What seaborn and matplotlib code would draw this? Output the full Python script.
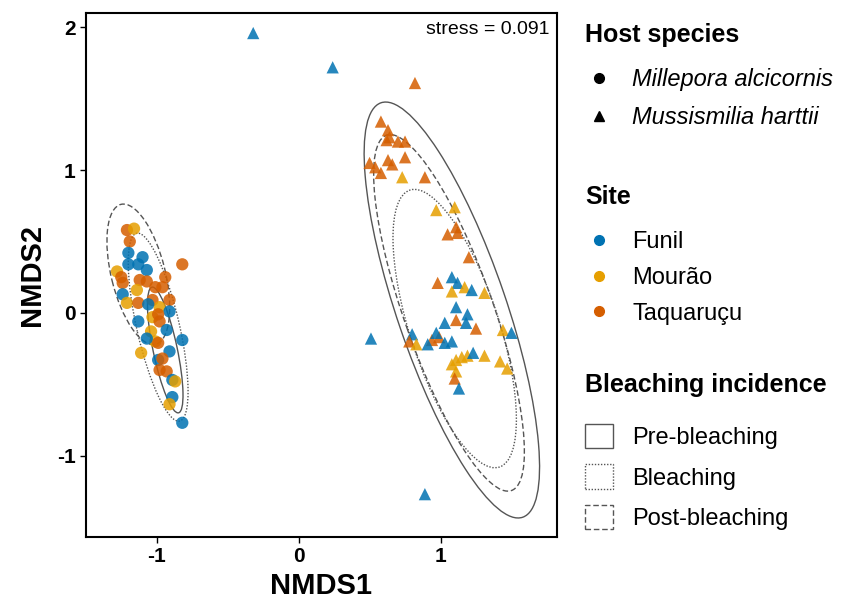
import numpy as np
import pandas as pd
import matplotlib
matplotlib.use("Agg")
import matplotlib.pyplot as plt
import matplotlib.patches as mpatches
from matplotlib.lines import Line2D
import seaborn as sns

# --- data ---
# Millepora alcicornis (circles)
mill_x = [-1.21, -1.16, -1.19, -1.20, -1.10, -1.20, -1.13, -1.07, -1.28, -1.25,
          -0.82, -1.24, -1.12, -1.07, -0.94, -1.01, -1.14, -0.96, -1.24, -1.21,
          -1.13, -1.03, -0.91, -0.98, -0.91, -1.06, -1.13, -1.03, -0.99, -0.98,
          -1.04, -0.93, -0.82, -1.01, -0.99, -1.07, -1.11, -0.91, -0.99, -0.96,
          -0.98, -0.93, -0.89, -0.87, -0.89, -0.91, -0.82]
mill_y = [0.58, 0.59, 0.50, 0.42, 0.39, 0.34, 0.34, 0.30, 0.29, 0.25,
          0.34, 0.21, 0.23, 0.22, 0.25, 0.18, 0.16, 0.18, 0.13, 0.07,
          0.07, 0.09, 0.09, 0.04, 0.01, 0.06, -0.06, -0.03, -0.01, -0.06,
          -0.13, -0.12, -0.19, -0.20, -0.21, -0.18, -0.28, -0.27, -0.33, -0.32,
          -0.40, -0.41, -0.47, -0.48, -0.59, -0.64, -0.77]
mill_site = list("TMTFFFFFMT" "TTTTTTMTFM" "TTTMFFFMTT" "MFFMTFMFFT" "TTFMFMF")

# Mussismilia harttii (triangles)
muss_x = [-0.32, 0.24, 0.82, 0.51, 0.89,
          0.58, 0.63, 0.64, 0.62, 0.70, 0.75, 0.50, 0.54, 0.63, 0.66,
          0.75, 0.58, 0.73, 0.89, 0.97, 1.10, 1.11, 1.05, 1.12, 1.20,
          0.98, 1.08, 1.12, 1.17, 1.22, 1.08, 1.31, 1.11, 1.19, 1.11,
          1.03, 1.25, 1.18, 0.80, 0.78, 0.83, 0.94, 0.99, 0.97, 0.91,
          1.03, 1.08, 1.44, 1.50, 1.11, 1.15, 1.19, 1.23, 1.31, 1.08,
          1.42, 1.47, 1.11, 1.10, 1.13]
muss_y = [1.96, 1.72, 1.61, -0.18, -1.27,
          1.34, 1.28, 1.23, 1.21, 1.20, 1.20, 1.05, 1.02, 1.07, 1.04,
          1.09, 0.98, 0.95, 0.95, 0.72, 0.74, 0.60, 0.55, 0.56, 0.39,
          0.21, 0.25, 0.21, 0.18, 0.16, 0.15, 0.14, 0.04, -0.01, -0.05,
          -0.07, -0.11, -0.07, -0.15, -0.20, -0.22, -0.19, -0.17, -0.14, -0.22,
          -0.21, -0.20, -0.12, -0.14, -0.33, -0.31, -0.30, -0.28, -0.30, -0.36,
          -0.34, -0.39, -0.41, -0.46, -0.53]
muss_site = list("FFTFF" "TTTTTTTTTT" "TTMTMMTTTT" "TFFMFMMFFT" "FTFFTMTTFF" "FFMFMMMFMM" "MMMTF")

site_names = {"F": "Funil", "M": "Mourão", "T": "Taquaruçu"}
site_colors = {"Funil": "#0072B2", "Mourão": "#E69F00", "Taquaruçu": "#D55E00"}
host_names = ["Millepora alcicornis", "Mussismilia harttii"]
stages = ["Pre-bleaching", "Bleaching", "Post-bleaching"]
stage_styles = {"Pre-bleaching": "-", "Bleaching": (0, (1, 1.2)), "Post-bleaching": (0, (4, 2))}

# 95% ellipses per host x bleaching incidence (centre, full axes, angle)
ell_host = ["Millepora alcicornis"] * 3 + ["Mussismilia harttii"] * 3
ell_stage = stages + stages
ell_cx = [-0.94, -0.99, -1.13, 1.08, 1.10, 1.06]
ell_cy = [-0.26, -0.10, 0.27, 0.02, -0.11, 0.00]
ell_w = [0.90, 1.35, 1.01, 3.07, 2.04, 2.64]
ell_h = [0.17, 0.30, 0.38, 0.77, 0.63, 0.63]
ell_ang = [-78, -77, -76, -71, -72, -70.5]

stress = 0.091

df = pd.DataFrame({
    "NMDS1": mill_x + muss_x,
    "NMDS2": mill_y + muss_y,
    "Site": [site_names[s] for s in mill_site + muss_site],
    "Host": [host_names[0]] * len(mill_x) + [host_names[1]] * len(muss_x),
})

sns.set_style("ticks")
plt.rcParams["font.family"] = ["Liberation Sans", "DejaVu Sans"]
plt.rcParams["axes.unicode_minus"] = False
plt.rcParams["text.color"] = "black"

fig = plt.figure(figsize=(8.58, 6.05), dpi=100)
ax = fig.add_axes([0.100, 0.1124, 0.549, 0.866])

for i in range(len(ell_cx)):
    ax.add_patch(mpatches.Ellipse((ell_cx[i], ell_cy[i]), ell_w[i], ell_h[i], angle=ell_ang[i],
                                  fill=False, edgecolor="#555555", linewidth=1.0,
                                  linestyle=stage_styles[ell_stage[i]]))

sns.scatterplot(data=df, x="NMDS1", y="NMDS2", hue="Site", style="Host",
                hue_order=list(site_colors), style_order=host_names,
                markers={host_names[0]: "o", host_names[1]: "^"},
                palette=site_colors, s=78, linewidth=0, alpha=0.85, legend=False, ax=ax)

ax.set_xlim(-1.5, 1.82)
ax.set_ylim(-1.57, 2.10)
ax.set_xticks([-1, 0, 1])
ax.set_yticks([-1, 0, 1, 2])
ax.tick_params(length=4, width=1, labelsize=15, colors="black")
for lab in ax.get_xticklabels() + ax.get_yticklabels():
    lab.set_fontweight("bold")
for sp in ax.spines.values():
    sp.set_linewidth(1.5)
    sp.set_color("black")
ax.set_xlabel("NMDS1", fontsize=21, fontweight="bold", labelpad=4, color="black")
ax.set_ylabel("NMDS2", fontsize=21, fontweight="bold", labelpad=8, color="black")
ax.text(0.985, 0.985, f"stress = {stress}", transform=ax.transAxes, ha="right", va="top", fontsize=14)

# --- legends ---
W, H = 858, 605
fs = 17
fig.text(585 / W, 1 - 35 / H, "Host species", fontsize=fs + 1, fontweight="bold", va="center")
fig.text(585 / W, 1 - 197 / H, "Site", fontsize=fs + 1, fontweight="bold", va="center")
fig.text(585 / W, 1 - 385 / H, "Bleaching incidence", fontsize=fs + 1, fontweight="bold", va="center")

host_handles = [Line2D([], [], marker=m, color="black", linestyle="", markersize=7) for m in ["o", "^"]]
leg1 = fig.legend(host_handles, host_names, loc="center left", bbox_to_anchor=(585 / W, 1 - 98.5 / H),
                  frameon=False, fontsize=fs, handlelength=1.2, handletextpad=0.8,
                  labelspacing=0.64, borderpad=0, borderaxespad=0)
for t in leg1.get_texts():
    t.set_style("italic")

site_handles = [Line2D([], [], marker="o", color=c, linestyle="", markersize=7) for c in site_colors.values()]
fig.legend(site_handles, list(site_colors), loc="center left", bbox_to_anchor=(585 / W, 1 - 278 / H),
           frameon=False, fontsize=fs, handlelength=1.2, handletextpad=0.8,
           labelspacing=0.58, borderpad=0, borderaxespad=0)

stage_handles = [mpatches.Patch(facecolor="white", edgecolor="#555555", linewidth=1.0,
                                linestyle=stage_styles[s]) for s in stages]
fig.legend(stage_handles, stages, loc="center left", bbox_to_anchor=(585 / W, 1 - 477 / H),
           frameon=False, fontsize=fs, handlelength=1.2, handleheight=1.2, handletextpad=0.8,
           labelspacing=0.65, borderpad=0, borderaxespad=0)

fig.savefig("out.png", dpi=100)
